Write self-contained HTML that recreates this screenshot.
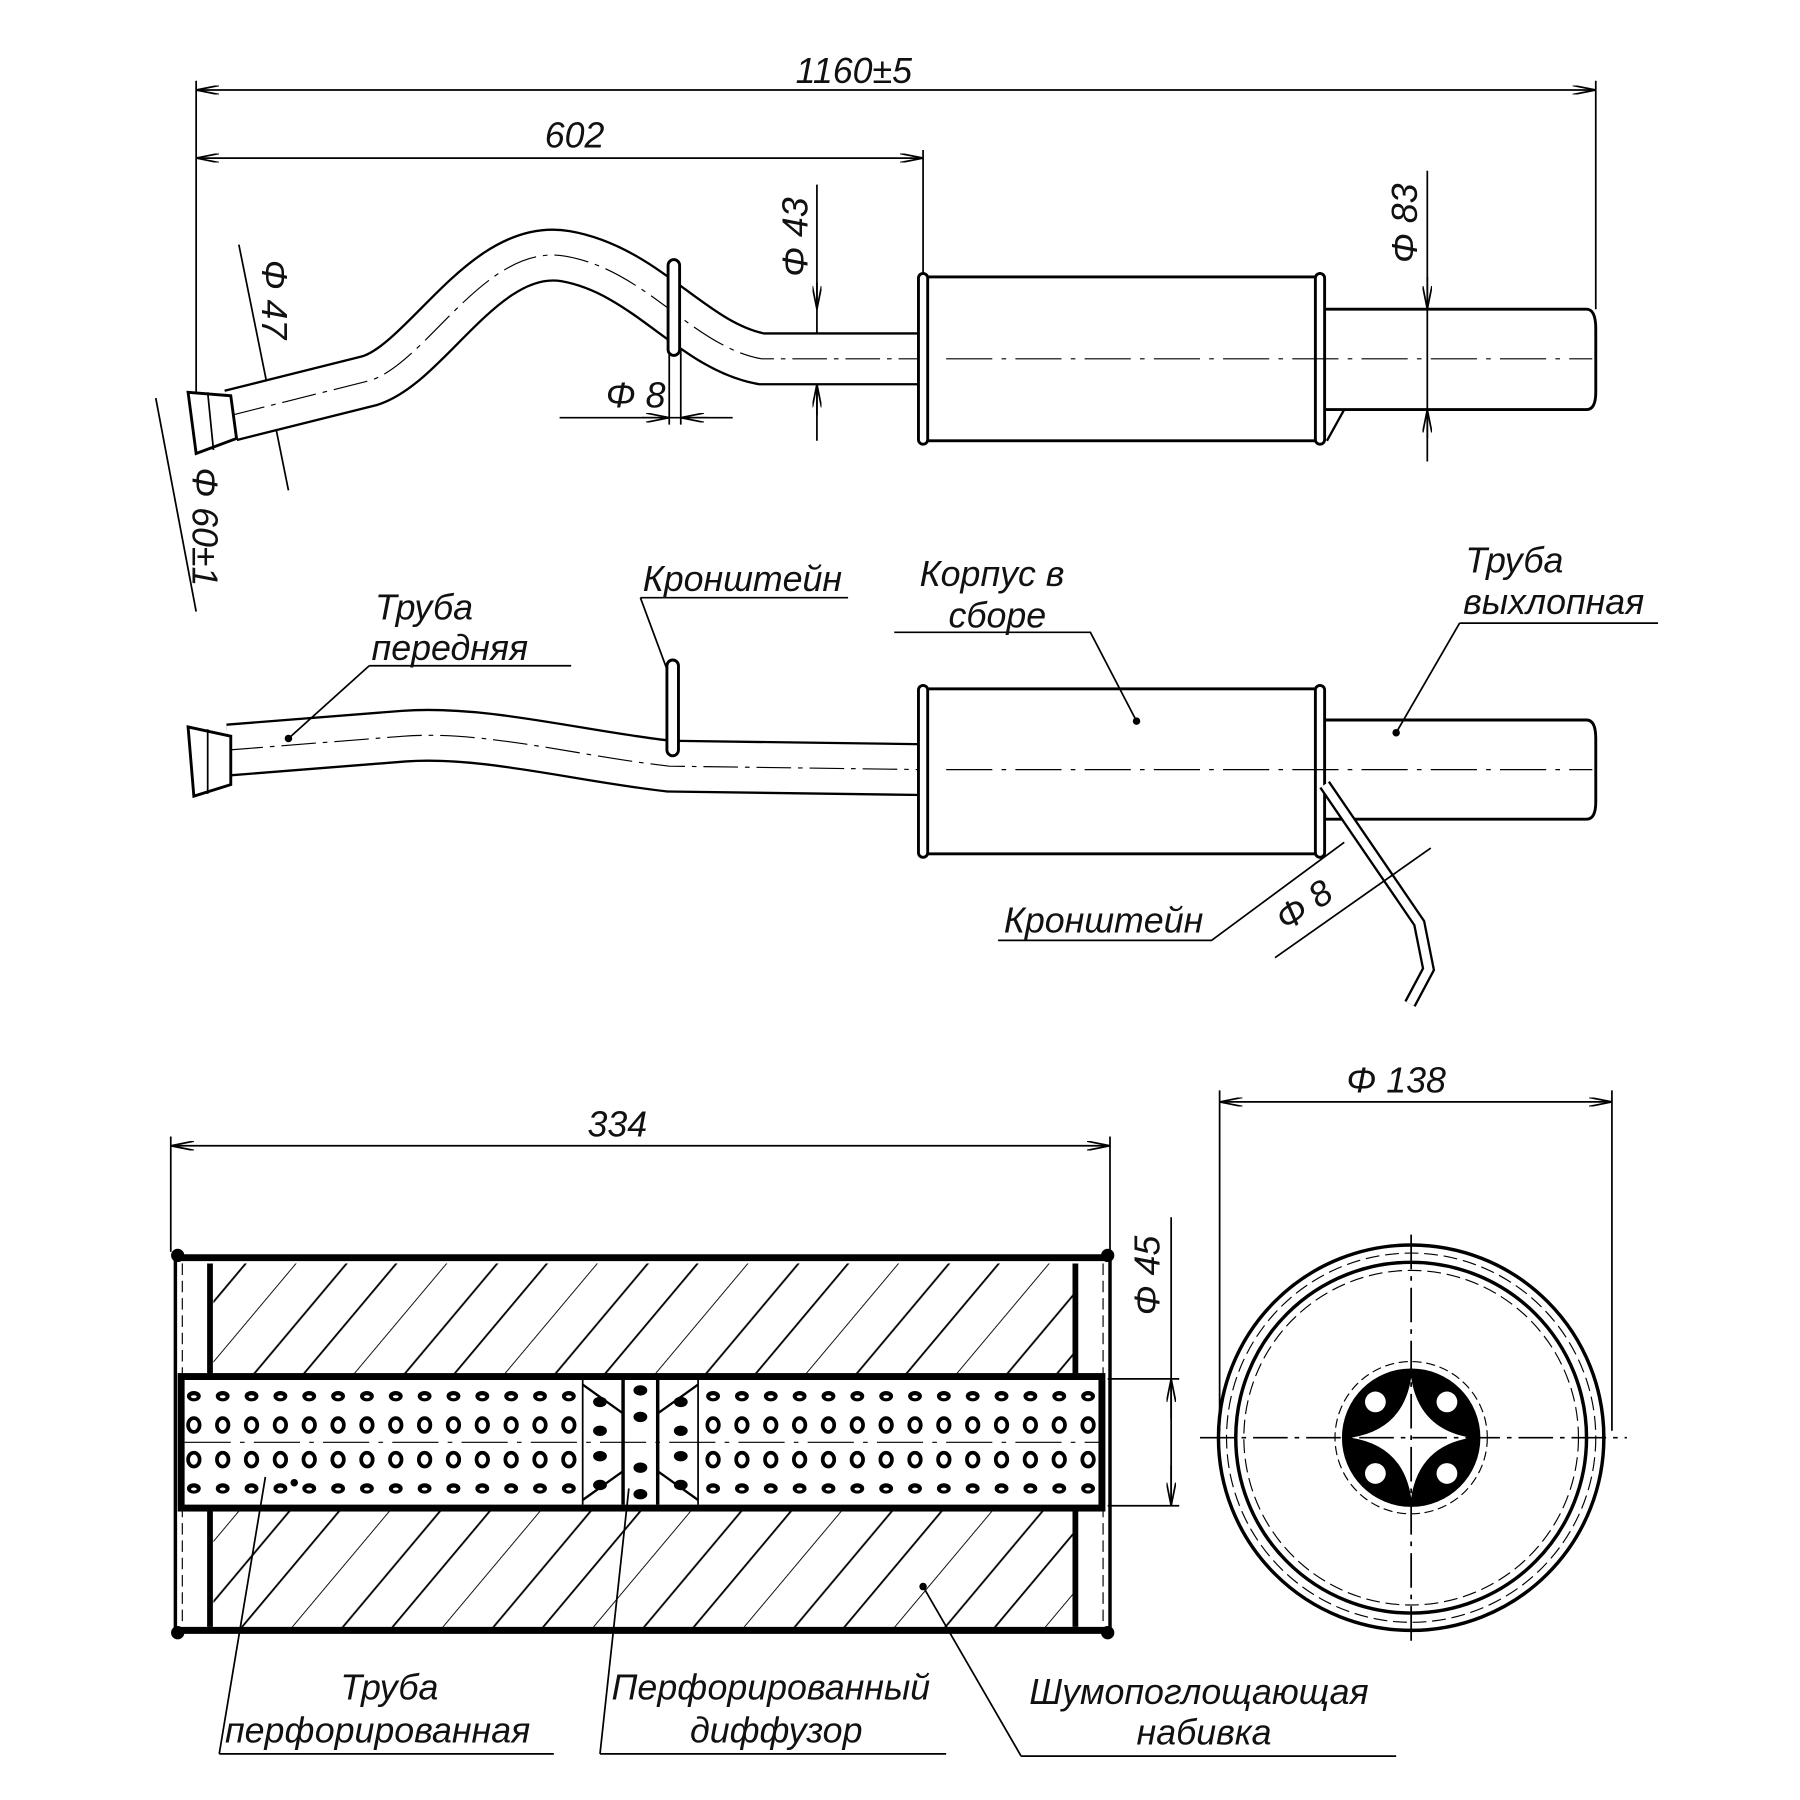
<!DOCTYPE html>
<html><head><meta charset="utf-8"><style>
html,body{margin:0;padding:0;background:#fff}
svg{display:block}
text{font-family:"Liberation Sans",sans-serif;font-style:italic;fill:#111}
</style></head><body>
<svg width="1800" height="1800" viewBox="0 0 1560 1560" xmlns="http://www.w3.org/2000/svg">
<defs>
<marker id="a" viewBox="0 0 20 8" refX="20" refY="4" markerWidth="20" markerHeight="8" markerUnits="userSpaceOnUse" orient="auto-start-reverse"><path d="M0,0 L20,4 L0,8" fill="none" stroke="#000" stroke-width="1.5"/></marker>
<pattern id="h" patternUnits="userSpaceOnUse" width="100" height="100" patternTransform="rotate(40)"><line x1="0" y1="0" x2="0" y2="100" stroke="#000" stroke-width="1.6"/><line x1="34" y1="0" x2="34" y2="100" stroke="#000" stroke-width="1.6"/><line x1="67" y1="0" x2="67" y2="100" stroke="#000" stroke-width="1.6"/></pattern>
<g id="c1"><ellipse cx="0" cy="0" rx="6" ry="4.5" fill="#000"/><ellipse cx="0" cy="0.5" rx="2.5" ry="1.3" fill="#fff"/></g>
<g id="c2"><ellipse cx="0" cy="0" rx="5" ry="6" fill="none" stroke="#000" stroke-width="3.2"/></g>
<g id="row1"><use href="#c1" x="0"/><use href="#c1" x="25"/><use href="#c1" x="50"/><use href="#c1" x="75"/><use href="#c1" x="100"/><use href="#c1" x="125"/><use href="#c1" x="150"/><use href="#c1" x="175"/><use href="#c1" x="200"/><use href="#c1" x="225"/><use href="#c1" x="250"/><use href="#c1" x="275"/><use href="#c1" x="300"/><use href="#c1" x="325"/></g>
<g id="row2"><use href="#c2" x="0"/><use href="#c2" x="25"/><use href="#c2" x="50"/><use href="#c2" x="75"/><use href="#c2" x="100"/><use href="#c2" x="125"/><use href="#c2" x="150"/><use href="#c2" x="175"/><use href="#c2" x="200"/><use href="#c2" x="225"/><use href="#c2" x="250"/><use href="#c2" x="275"/><use href="#c2" x="300"/><use href="#c2" x="325"/></g>
</defs>
<g stroke="#000" fill="none" stroke-width="1.5">
<line x1="170" y1="70" x2="170" y2="345"/><line x1="1383" y1="70" x2="1383" y2="268"/><line x1="800" y1="130" x2="800" y2="240"/>
<line x1="170" y1="78" x2="1383" y2="78" marker-start="url(#a)" marker-end="url(#a)"/>
<line x1="170" y1="137" x2="800" y2="137" marker-start="url(#a)" marker-end="url(#a)"/>
<line x1="708" y1="160" x2="708" y2="382"/>
<path d="M708,245 L708,268" marker-end="url(#a)"/><path d="M708,360 L708,333" marker-end="url(#a)"/>
<line x1="1237" y1="148" x2="1237" y2="400"/>
<path d="M1237,240 L1237,268" marker-end="url(#a)"/><path d="M1237,380 L1237,355" marker-end="url(#a)"/>
<line x1="485" y1="362" x2="635" y2="362"/><line x1="580" y1="300" x2="580" y2="368"/><line x1="590" y1="300" x2="590" y2="368"/>
<path d="M556,362 L580,362" marker-end="url(#a)"/><path d="M614,362 L590,362" marker-end="url(#a)"/>
<line x1="207" y1="212" x2="250" y2="425"/><line x1="135" y1="345" x2="170" y2="530"/>
<path d="M200,360 L320,330 C370,315 420,210 490,222 C560,234 600,300 660,311 L800,311" stroke-width="46"/>
<path d="M200,360 L320,330 C370,315 420,210 490,222 C560,234 600,300 660,311 L800,311" stroke="#fff" stroke-width="42"/>
<path d="M200,360 L320,330 C370,315 420,210 490,222 C560,234 600,300 660,311 L800,311" stroke-width="1" stroke-dasharray="30,6,4,6"/>
<path d="M163,340 L200,343 L205,380 L170,393 Z" fill="#fff" stroke-width="2.5"/>
<line x1="180" y1="340" x2="185" y2="390"/>
<rect x="579" y="225" width="10" height="83" rx="5" fill="#fff" stroke-width="2.5"/>
<rect x="800" y="240" width="345" height="142" stroke-width="2.5" fill="#fff"/>
<rect x="796" y="237" width="8" height="148" rx="4" fill="#fff" stroke-width="2.5"/>
<rect x="1140" y="237" width="8" height="148" rx="4" fill="#fff" stroke-width="2.5"/>
<path d="M1148,268 L1375,268 Q1383,268 1383,285 L1383,340 Q1383,355 1375,355 L1148,355" stroke-width="2.5"/>
<path d="M1150,382 L1165,355" stroke-width="2"/>
<line x1="820" y1="311" x2="1380" y2="311" stroke-width="1" stroke-dasharray="40,8,4,8"/>
<path d="M198,650 L350,638 C420,633 500,655 580,664 L800,667" stroke-width="46"/>
<path d="M198,650 L350,638 C420,633 500,655 580,664 L800,667" stroke="#fff" stroke-width="42"/>
<path d="M198,650 L350,638 C420,633 500,655 580,664 L800,667" stroke-width="1" stroke-dasharray="30,6,4,6"/>
<path d="M163,630 L200,638 L200,680 L168,690 Z" fill="#fff" stroke-width="2.5"/>
<line x1="180" y1="632" x2="180" y2="688"/>
<rect x="578" y="572" width="10" height="83" rx="5" fill="#fff" stroke-width="2.5"/>
<rect x="800" y="597" width="345" height="143" stroke-width="2.5" fill="#fff"/>
<rect x="796" y="594" width="8" height="149" rx="4" fill="#fff" stroke-width="2.5"/>
<rect x="1140" y="594" width="8" height="149" rx="4" fill="#fff" stroke-width="2.5"/>
<path d="M1148,624 L1375,624 Q1383,624 1383,640 L1383,695 Q1383,710 1375,710 L1148,710" stroke-width="2.5"/>
<line x1="820" y1="667" x2="1380" y2="667" stroke-width="1" stroke-dasharray="40,8,4,8"/>
<path d="M1148,680 L1230,800 L1238,840 L1222,870" stroke-width="11"/>
<path d="M1148,680 L1230,800 L1238,840 L1222,870" stroke="#fff" stroke-width="7"/>
<path d="M320,577 L495,577 M320,577 L250,640"/><path d="M555,518 L735,518 M555,518 L578,580"/>
<path d="M775,548 L945,548 L985,625"/><path d="M1265,540 L1437,540 M1265,540 L1210,635"/>
<path d="M865,815 L1050,815 L1165,730"/>
<path d="M1105,830 L1240,735"/>
<circle cx="250" cy="640" r="2.5" fill="#000"/><circle cx="985" cy="625" r="2.5" fill="#000"/><circle cx="1210" cy="635" r="2.5" fill="#000"/>
<line x1="148" y1="985" x2="148" y2="1085"/><line x1="962" y1="985" x2="962" y2="1085"/>
<line x1="148" y1="993" x2="962" y2="993" marker-start="url(#a)" marker-end="url(#a)"/>
<rect x="185" y="1095" width="745" height="98" fill="url(#h)" stroke="none"/>
<rect x="185" y="1307" width="745" height="103" fill="url(#h)" stroke="none"/>
<line x1="152" y1="1090" x2="962" y2="1090" stroke-width="6"/><line x1="152" y1="1413" x2="962" y2="1413" stroke-width="6"/>
<line x1="152" y1="1085" x2="152" y2="1418" stroke-width="3"/><line x1="962" y1="1085" x2="962" y2="1418" stroke-width="3"/>
<circle cx="154" cy="1088" r="5" fill="#000"/><circle cx="154" cy="1415" r="5" fill="#000"/><circle cx="960" cy="1088" r="5" fill="#000"/><circle cx="960" cy="1415" r="5" fill="#000"/>
<line x1="182" y1="1095" x2="182" y2="1193" stroke-width="5"/><line x1="182" y1="1307" x2="182" y2="1410" stroke-width="5"/>
<line x1="932" y1="1095" x2="932" y2="1193" stroke-width="5"/><line x1="932" y1="1307" x2="932" y2="1410" stroke-width="5"/>
<line x1="158" y1="1095" x2="158" y2="1410" stroke-width="1" stroke-dasharray="10,5"/><line x1="956" y1="1095" x2="956" y2="1410" stroke-width="1" stroke-dasharray="10,5"/>
<rect x="157" y="1193" width="798" height="114" fill="#fff" stroke-width="6"/>
<line x1="505" y1="1196" x2="505" y2="1304"/><line x1="605" y1="1196" x2="605" y2="1304"/>
<line x1="540" y1="1196" x2="540" y2="1304" stroke-width="3"/><line x1="570" y1="1196" x2="570" y2="1304" stroke-width="3"/>
<path d="M505,1200 L540,1225 M505,1300 L540,1275 M605,1200 L570,1225 M605,1300 L570,1275" stroke-width="2"/>
<line x1="160" y1="1250" x2="955" y2="1250" stroke-width="1" stroke-dasharray="40,8,4,8"/>
<line x1="960" y1="1195" x2="1022" y2="1195"/><line x1="960" y1="1305" x2="1022" y2="1305"/>
<line x1="1015" y1="1055" x2="1015" y2="1305"/>
<path d="M1015,1230 L1015,1195" marker-end="url(#a)"/><path d="M1015,1270 L1015,1305" marker-end="url(#a)"/>
<path d="M190,1520 L230,1280 M520,1520 L545,1290 M885,1522 L1210,1522 M885,1522 L800,1375 M190,1520 L480,1520 M520,1520 L820,1520"/>
<circle cx="800" cy="1375" r="2.5" fill="#000"/><circle cx="255" cy="1285" r="2.5" fill="#000"/>
<line x1="1057" y1="945" x2="1057" y2="1240"/><line x1="1397" y1="945" x2="1397" y2="1240"/>
<line x1="1057" y1="955" x2="1397" y2="955" marker-start="url(#a)" marker-end="url(#a)"/>
<circle cx="1223" cy="1246" r="167" stroke-width="3"/>
<circle cx="1223" cy="1246" r="160" stroke-width="1" stroke-dasharray="12,5"/>
<circle cx="1223" cy="1246" r="152" stroke-width="3"/>
<circle cx="1223" cy="1246" r="145" stroke-width="1" stroke-dasharray="12,5"/>
<circle cx="1223" cy="1246" r="66" stroke-width="1" stroke-dasharray="8,4"/>
<circle cx="1223" cy="1246" r="60" fill="#000" stroke="none"/>
<path d="M1223,1194 Q1230,1239 1275,1246 Q1230,1253 1223,1298 Q1216,1253 1171,1246 Q1216,1239 1223,1194Z" fill="#fff" stroke="none"/>
<g fill="#fff" stroke="none"><circle cx="1192" cy="1215" r="9"/><circle cx="1254" cy="1215" r="9"/><circle cx="1192" cy="1277" r="9"/><circle cx="1254" cy="1277" r="9"/></g>
<line x1="1040" y1="1246" x2="1410" y2="1246" stroke-width="1.5" stroke-dasharray="30,6,4,6"/>
<line x1="1223" y1="1070" x2="1223" y2="1425" stroke-width="1.5" stroke-dasharray="30,6,4,6"/>
</g>
<use href="#row1" x="168" y="1210"/><use href="#row2" x="168" y="1235"/><use href="#row2" x="168" y="1265"/><use href="#row1" x="168" y="1290"/>
<use href="#row1" x="618" y="1210"/><use href="#row2" x="618" y="1235"/><use href="#row2" x="618" y="1265"/><use href="#row1" x="618" y="1290"/>
<g fill="#000"><ellipse cx="520" cy="1215" rx="6" ry="4.5"/><ellipse cx="520" cy="1240" rx="6" ry="4.5"/><ellipse cx="520" cy="1262" rx="6" ry="4.5"/><ellipse cx="520" cy="1287" rx="6" ry="4.5"/>
<ellipse cx="590" cy="1215" rx="6" ry="4.5"/><ellipse cx="590" cy="1240" rx="6" ry="4.5"/><ellipse cx="590" cy="1262" rx="6" ry="4.5"/><ellipse cx="590" cy="1287" rx="6" ry="4.5"/>
<ellipse cx="555" cy="1205" rx="6" ry="4.5"/><ellipse cx="555" cy="1228" rx="6" ry="4.5"/><ellipse cx="555" cy="1272" rx="6" ry="4.5"/><ellipse cx="555" cy="1295" rx="6" ry="4.5"/></g>
<g font-size="31">
<text x="740" y="72" text-anchor="middle">1160±5</text>
<text x="498" y="128" text-anchor="middle">602</text>
<text x="525" y="353">Φ 8</text>
<text transform="translate(700,240) rotate(-90)">Φ 43</text>
<text transform="translate(1228,228) rotate(-90)">Φ 83</text>
<text transform="translate(227,225) rotate(90)">Φ 47</text>
<text transform="translate(167,405) rotate(90)">Φ 60±1</text>
<text x="325" y="537">Труба</text><text x="322" y="572">передняя</text>
<text x="557" y="512">Кронштейн</text>
<text x="797" y="508">Корпус в</text><text x="822" y="544">сборе</text>
<text x="1270" y="496">Труба</text><text x="1268" y="532">выхлопная</text>
<text x="870" y="808">Кронштейн</text>
<text transform="translate(1115,808) rotate(-35)">Φ 8</text>
<text x="535" y="985" text-anchor="middle">334</text>
<text x="1210" y="947" text-anchor="middle">Φ 138</text>
<text transform="translate(1005,1140) rotate(-90)">Φ 45</text>
<text x="295" y="1473">Труба</text><text x="195" y="1510">перфорированная</text>
<text x="530" y="1473">Перфорированный</text><text x="598" y="1510">диффузор</text>
<text x="892" y="1477">Шумопоглощающая</text><text x="985" y="1512">набивка</text>
</g>
</svg>
</body></html>
